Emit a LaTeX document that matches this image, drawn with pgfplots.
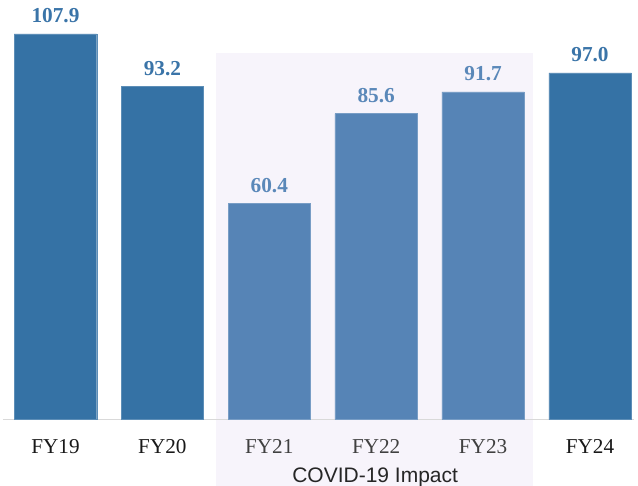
\documentclass[border=0pt]{standalone}
\usepackage{fontspec}
\setmainfont{Liberation Serif}
\newfontfamily\arialfont{Liberation Sans}
\usepackage{xcolor}
\usepackage{pgfplots}
\pgfplotsset{compat=1.18}
\definecolor{darkbar}{HTML}{3572A5}
\definecolor{lightbar}{HTML}{5684B6}
\definecolor{darklbl}{HTML}{3A74A8}
\definecolor{lightlbl}{HTML}{5A88B9}
\definecolor{covidbg}{HTML}{F7F4FB}
\definecolor{baseln}{HTML}{D9D9D9}

\begin{document}
\begin{tikzpicture}
\begin{axis}[
  set layers,
  width=638pt, height=419.5pt, scale only axis,
  xmin=-0.519, xmax=5.449, ymin=0, ymax=117.4,
  axis line style={draw=none},
  tick style={draw=none},
  ytick=\empty,
  xtick={0,1,2,3,4,5},
  xticklabels={FY19,FY20,\textcolor{black!75}{FY21},\textcolor{black!75}{FY22},\textcolor{black!75}{FY23},FY24},
  xticklabel style={font=\fontsize{21.2}{25}\selectfont, text=black!90, anchor=base, yshift=-29.5pt},
  ybar, bar width=82.5pt, bar shift=0pt,
  clip=false,
  nodes near coords,
  every node near coord/.append style={font=\bfseries\fontsize{21.3}{25}\selectfont, anchor=base, yshift=11pt},
  /pgf/number format/.cd, fixed, fixed zerofill, precision=1, assume math mode=true,
]
% picture extent and background band
\coordinate (bbsw) at (axis cs:-0.519,-18.6);
\coordinate (bbne) at (axis cs:5.449,117.4);
\begin{pgfonlayer}{axis background}
\fill[covidbg] (axis cs:1.501,-18.5) rectangle (axis cs:4.467,102.6);
\draw[baseln, line width=0.8pt] (axis cs:-0.491,0) -- (axis cs:5.412,0);
\end{pgfonlayer}

\addplot[fill=darkbar, draw=darkbar!80!white, line width=0.4pt,
  every node near coord/.append style={text=darklbl}]
  coordinates {(0,107.9) (1,93.2) (5,97.0)};
\addplot[fill=lightbar, draw=lightbar!80!white, line width=0.4pt,
  every node near coord/.append style={text=lightlbl}]
  coordinates {(2,60.4) (3,85.6) (4,91.7)};

\node[anchor=base, font=\arialfont\fontsize{21}{25}\selectfont, text=black!85]
  at (axis cs:2.99,-17.5) {COVID-19 Impact};
\end{axis}
\pgfresetboundingbox
\useasboundingbox (bbsw) rectangle (bbne);
\end{tikzpicture}
\end{document}
